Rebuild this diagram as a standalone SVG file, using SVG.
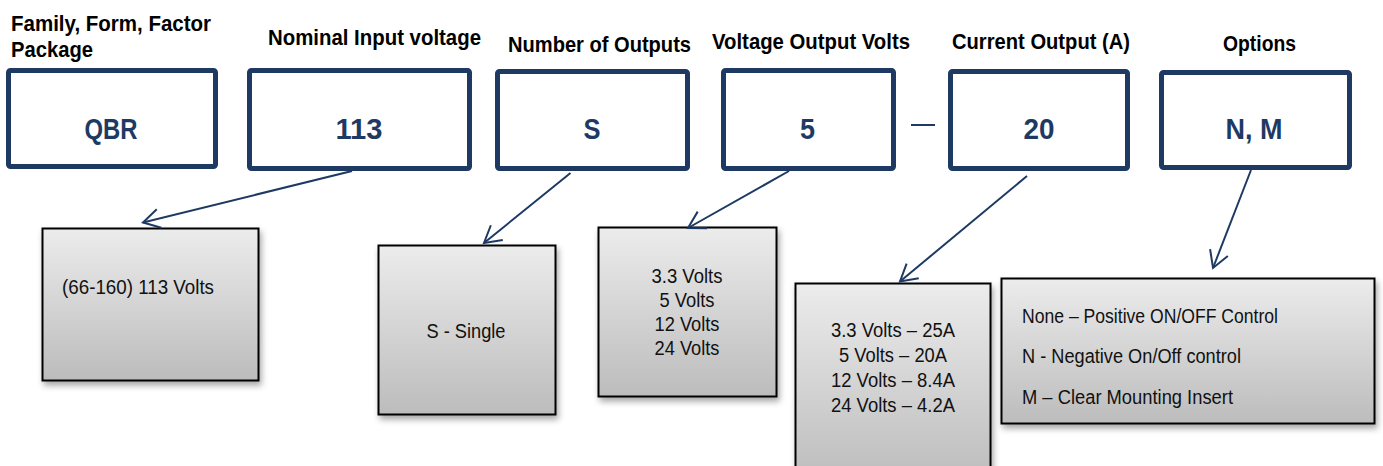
<svg xmlns="http://www.w3.org/2000/svg" width="1383" height="466" viewBox="0 0 1383 466">
<style>
.lbl{font-family:"Liberation Sans Narrow","Liberation Sans",Arial,sans-serif;font-weight:bold;font-size:22px;fill:#000}
.code{font-family:"Liberation Sans Narrow","Liberation Sans",Arial,sans-serif;font-weight:bold;font-size:29px;fill:#1e3a63;text-anchor:middle}
.top{fill:#fff;stroke:#1e3a63;stroke-width:5}
.bot{fill:url(#g);stroke:#000;stroke-width:2;filter:url(#sh)}
.txt{font-family:"Liberation Sans Narrow","Liberation Sans",Arial,sans-serif;font-size:20px;fill:#111}
.mid{text-anchor:middle}
.conn{stroke:#1e3a63;stroke-width:2;fill:none;marker-end:url(#arr)}
</style>
<defs>
<linearGradient id="g" x1="0" y1="0" x2="0" y2="1">
<stop offset="0" stop-color="#ececec"/>
<stop offset="1" stop-color="#bcbcbc"/>
</linearGradient>
<filter id="sh" x="-10%" y="-10%" width="130%" height="130%">
<feDropShadow dx="2" dy="4" stdDeviation="3" flood-color="#000" flood-opacity="0.35"/>
</filter>
<marker id="arr" markerUnits="userSpaceOnUse" markerWidth="24" markerHeight="24" viewBox="-20 -12 24 24" refX="0" refY="0" orient="auto">
<path d="M -16.5 -9.5 L 0 0 L -16.5 9.5" fill="none" stroke="#1e3a63" stroke-width="2"/>
</marker>
</defs>

<g id="head-family">
<text class="lbl" x="11" y="31" textLength="200" lengthAdjust="spacingAndGlyphs">Family, Form, Factor</text>
<text class="lbl" x="11" y="57" textLength="82" lengthAdjust="spacingAndGlyphs">Package</text>
<rect class="top" x="8.5" y="70.5" width="207" height="96" rx="2"/>
<text class="code" x="111" y="139" textLength="53" lengthAdjust="spacingAndGlyphs">QBR</text>
</g>
<g id="head-input">
<text class="lbl" x="268" y="45" textLength="213" lengthAdjust="spacingAndGlyphs">Nominal Input voltage</text>
<rect class="top" x="249.5" y="70.5" width="220" height="98" rx="2"/>
<text class="code" x="359" y="139" textLength="47" lengthAdjust="spacingAndGlyphs">113</text>
</g>
<g id="head-outputs">
<text class="lbl" x="508" y="52" textLength="183" lengthAdjust="spacingAndGlyphs">Number of Outputs</text>
<rect class="top" x="497.5" y="71.5" width="190" height="97" rx="2"/>
<text class="code" x="592" y="139" textLength="17" lengthAdjust="spacingAndGlyphs">S</text>
</g>
<g id="head-voltage">
<text class="lbl" x="712" y="49" textLength="198" lengthAdjust="spacingAndGlyphs">Voltage Output Volts</text>
<rect class="top" x="723.5" y="70.5" width="170" height="98" rx="2"/>
<text class="code" x="807.5" y="139" textLength="15" lengthAdjust="spacingAndGlyphs">5</text>
</g>
<g id="head-current">
<text class="lbl" x="952" y="49" textLength="178" lengthAdjust="spacingAndGlyphs">Current Output (A)</text>
<rect class="top" x="950.5" y="71.5" width="177" height="97" rx="2"/>
<text class="code" x="1039" y="139" textLength="31" lengthAdjust="spacingAndGlyphs">20</text>
</g>
<g id="head-options">
<text class="lbl" x="1223" y="51" textLength="73" lengthAdjust="spacingAndGlyphs">Options</text>
<rect class="top" x="1161.5" y="72.5" width="188" height="95" rx="2"/>
<text class="code" x="1254" y="139" textLength="57" lengthAdjust="spacingAndGlyphs">N, M</text>
</g>
<g id="dash">
<line x1="911" y1="125" x2="935" y2="125" stroke="#1e3a63" stroke-width="2"/>
</g>

<g id="detail-input">
<rect class="bot" x="42.5" y="228.5" width="216" height="152"/>
<text class="txt" x="62" y="294" textLength="152" lengthAdjust="spacingAndGlyphs">(66-160) 113 Volts</text>
</g>
<g id="detail-outputs">
<rect class="bot" x="378.5" y="245.5" width="177" height="169"/>
<text class="txt mid" x="466" y="338" textLength="79" lengthAdjust="spacingAndGlyphs">S - Single</text>
</g>
<g id="detail-voltage">
<rect class="bot" x="598.5" y="227.5" width="178" height="169"/>
<text class="txt mid" x="687" y="283" textLength="71" lengthAdjust="spacingAndGlyphs">3.3 Volts</text>
<text class="txt mid" x="687" y="307" textLength="55" lengthAdjust="spacingAndGlyphs">5 Volts</text>
<text class="txt mid" x="687" y="331" textLength="65" lengthAdjust="spacingAndGlyphs">12 Volts</text>
<text class="txt mid" x="687" y="355" textLength="65" lengthAdjust="spacingAndGlyphs">24 Volts</text>
</g>
<g id="detail-current">
<rect class="bot" x="795.5" y="283.5" width="195" height="200"/>
<text class="txt mid" x="893" y="337" textLength="124" lengthAdjust="spacingAndGlyphs">3.3 Volts – 25A</text>
<text class="txt mid" x="893" y="362" textLength="108" lengthAdjust="spacingAndGlyphs">5 Volts – 20A</text>
<text class="txt mid" x="893" y="387" textLength="124" lengthAdjust="spacingAndGlyphs">12 Volts – 8.4A</text>
<text class="txt mid" x="893" y="412" textLength="124" lengthAdjust="spacingAndGlyphs">24 Volts – 4.2A</text>
</g>
<g id="detail-options">
<rect class="bot" x="1001.5" y="278.5" width="373" height="145"/>
<text class="txt" x="1022" y="323" textLength="256" lengthAdjust="spacingAndGlyphs">None – Positive ON/OFF Control</text>
<text class="txt" x="1022" y="363" textLength="219" lengthAdjust="spacingAndGlyphs">N - Negative On/Off control</text>
<text class="txt" x="1022" y="404" textLength="211" lengthAdjust="spacingAndGlyphs">M – Clear Mounting Insert</text>
</g>

<g id="connectors">
<line class="conn" x1="352" y1="171" x2="143" y2="222.5"/>
<line class="conn" x1="570.5" y1="173" x2="484" y2="243"/>
<line class="conn" x1="789" y1="171" x2="688" y2="228"/>
<line class="conn" x1="1027" y1="176" x2="900" y2="281.5"/>
<line class="conn" x1="1251" y1="170" x2="1213" y2="268"/>
</g>
</svg>
